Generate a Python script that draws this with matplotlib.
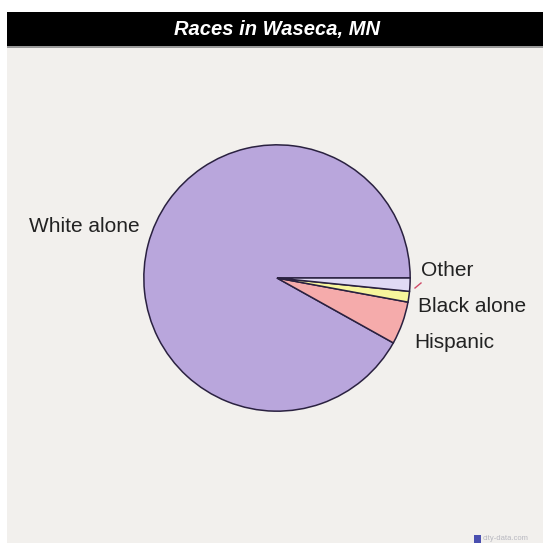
import matplotlib
matplotlib.use("Agg")
import matplotlib.pyplot as plt
from matplotlib.patches import Rectangle
from matplotlib.lines import Line2D

title = "Races in Waseca, MN"
categories = ["White alone", "Hispanic", "Black alone", "Other"]
shares = [91.9, 5.2, 1.3, 1.6]
colors = ["#b9a6dc", "#f5abab", "#f7f59c", "#e0daf4"]

W = H = 543
fig = plt.figure(figsize=(W / 100, H / 100), dpi=100, facecolor="white")

def fx(px):
    return px / W

def fy(py):
    return 1 - py / H

# panel background and title bar
fig.patches.append(Rectangle((fx(7), 0), fx(536), fy(47), transform=fig.transFigure,
                             facecolor="#f2f0ed", edgecolor="none", zorder=0))
fig.patches.append(Rectangle((fx(7), fy(48)), fx(536), fx(2), transform=fig.transFigure,
                             facecolor="#9a9a9a", edgecolor="none", zorder=1))
fig.patches.append(Rectangle((fx(7), fy(46)), fx(536), fx(34), transform=fig.transFigure,
                             facecolor="black", edgecolor="none", zorder=2))
fig.text(fx(277), fy(29), title, color="white", fontsize=14.5, fontweight="bold",
         fontstyle="italic", family=["Liberation Sans", "DejaVu Sans"],
         ha="center", va="center", zorder=3)

# pie
cx, cy, r = 277, 278, 134.5
ax = fig.add_axes([fx(cx - r), fy(cy + r), fx(2 * r), fx(2 * r)], zorder=5)
ax.patch.set_visible(False)
ax.pie(shares, colors=colors, startangle=0, counterclock=True, radius=1,
       wedgeprops=dict(edgecolor="#2a2140", linewidth=1.1))
ax.set_xlim(-1.01, 1.01)
ax.set_ylim(-1.01, 1.01)
ax.set_aspect("equal")
ax.axis("off")

lab = dict(fontsize=15, color="#222222", family=["Liberation Sans", "DejaVu Sans"],
           va="center", zorder=6)
fig.text(fx(140), fy(227), categories[0], ha="right", **lab)
fig.text(fx(421), fy(270), categories[3], ha="left", **lab)
fig.text(fx(418), fy(306), categories[2], ha="left", **lab)
fig.text(fx(414), fy(343), categories[1], ha="left", **lab)

# leader mark for the thin slice
fig.add_artist(Line2D([fx(415), fx(421)], [fy(288), fy(283)], transform=fig.transFigure,
                      color="#d04a68", linewidth=1.0, zorder=6))

# source badge
fig.patches.append(Rectangle((fx(474), 0), fx(7), fx(8), transform=fig.transFigure,
                             facecolor="#4a4fb0", edgecolor="none", zorder=3))
fig.text(fx(483), fy(539), "city-data.com", fontsize=5.5, color="#b8b8c0",
         family=["Liberation Sans", "DejaVu Sans"], ha="left", va="center")

fig.savefig("out.png", dpi=100, facecolor="white")
